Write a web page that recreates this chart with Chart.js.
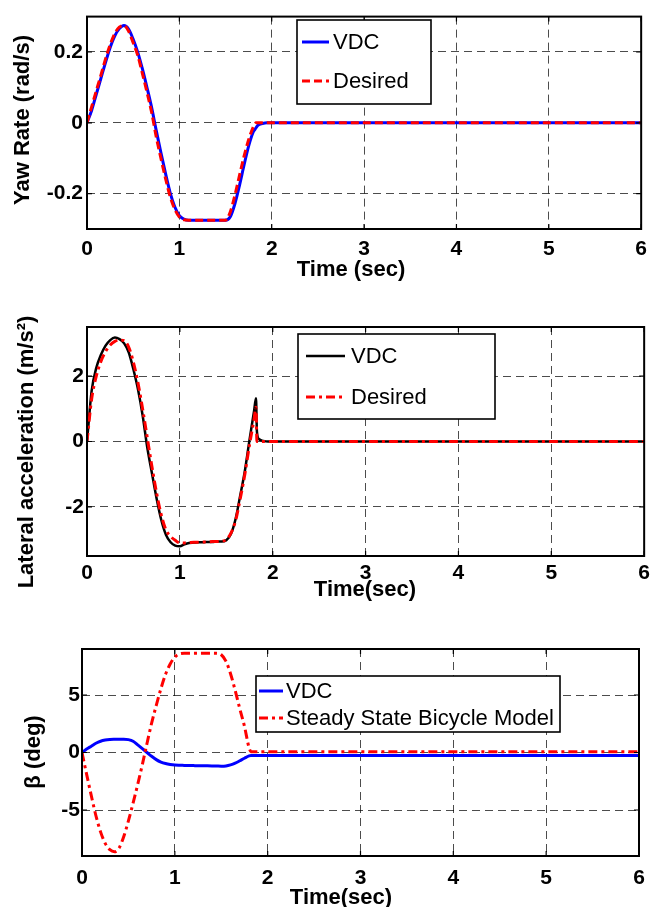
<!DOCTYPE html>
<html>
<head>
<meta charset="utf-8">
<script src="https://cdn.jsdelivr.net/npm/chart.js@4.4.0/dist/chart.umd.min.js"></script>
<style>
  html, body { margin: 0; padding: 0; background: #fff; }
  #wrap { position: relative; width: 655px; height: 907px; overflow: hidden; }
  canvas { position: absolute; left: 0; }
</style>
</head>
<body>
<div id="wrap">
  <canvas id="yawChart" width="655" height="300" style="top:0px"></canvas>
  <canvas id="latChart" width="655" height="310" style="top:300px"></canvas>
  <canvas id="betaChart" width="655" height="287" style="top:620px"></canvas>
</div>
<script>
// sample times (sec), shared by all three panels
const time = [0, 0.05, 0.1, 0.15, 0.2, 0.25, 0.3, 0.35, 0.4, 0.45,
  0.5, 0.55, 0.6, 0.65, 0.7, 0.75, 0.8, 0.85, 0.9, 0.95,
  1.0, 1.05, 1.1, 1.15, 1.2, 1.25, 1.3, 1.35, 1.4, 1.45,
  1.5, 1.55, 1.6, 1.65, 1.7, 1.75, 1.8, 1.82, 1.83, 1.85,
  1.9, 1.95, 2.0, 6.0];

// yaw rate (rad/s)
const yawVdc = [0, 0.035, 0.080, 0.125, 0.170, 0.212, 0.245, 0.266, 0.275, 0.265,
  0.236, 0.199, 0.152, 0.099, 0.043, -0.022, -0.084, -0.143, -0.197, -0.237,
  -0.262, -0.272, -0.275, -0.275, -0.275, -0.275, -0.275, -0.275, -0.275, -0.275,
  -0.275, -0.266, -0.230, -0.178, -0.120, -0.066, -0.026, -0.018, -0.014, -0.007,
  -0.002, 0, 0, 0];
const yawDesired = [0, 0.045, 0.090, 0.134, 0.180, 0.220, 0.252, 0.270, 0.275, 0.259,
  0.226, 0.190, 0.139, 0.086, 0.029, -0.040, -0.100, -0.157, -0.208, -0.244,
  -0.266, -0.274, -0.275, -0.275, -0.275, -0.275, -0.275, -0.275, -0.275, -0.275,
  -0.275, -0.253, -0.206, -0.150, -0.095, -0.048, -0.012, -0.003, 0, 0,
  0, 0, 0, 0];

// lateral acceleration (m/s^2)
const latVdc = [0, 1.55, 2.25, 2.65, 2.93, 3.10, 3.18, 3.13, 3.00, 2.72,
  2.20, 1.58, 0.78, -0.20, -0.98, -1.75, -2.40, -2.85, -3.08, -3.18,
  -3.20, -3.14, -3.10, -3.09, -3.08, -3.08, -3.07, -3.07, -3.06, -3.06,
  -3.02, -2.83, -2.37, -1.65, -0.90, 0.05, 0.95, 1.32, 0.30, 0.08,
  0.02, 0, 0, 0];
const latDesired = [0, 1.30, 2.00, 2.45, 2.75, 2.95, 3.06, 3.10, 3.08, 2.88,
  2.42, 1.78, 0.98, 0.10, -0.78, -1.58, -2.25, -2.70, -2.90, -3.02,
  -3.10, -3.10, -3.09, -3.08, -3.08, -3.07, -3.07, -3.06, -3.06, -3.05,
  -3.00, -2.80, -2.42, -1.75, -1.00, -0.10, 0.70, 1.05, 0, 0,
  0, 0, 0, 0];

// side slip angle beta (deg)
const betaVdc = [0, 0.30, 0.55, 0.80, 0.98, 1.08, 1.13, 1.15, 1.16, 1.16,
  1.12, 0.98, 0.66, 0.33, 0.00, -0.33, -0.62, -0.83, -0.96, -1.04,
  -1.09, -1.11, -1.12, -1.13, -1.14, -1.15, -1.15, -1.16, -1.17, -1.18,
  -1.19, -1.17, -1.08, -0.93, -0.72, -0.50, -0.30, -0.26, -0.26, -0.26,
  -0.26, -0.26, -0.26, -0.26];
const betaBicycle = [0, -1.90, -3.75, -5.50, -6.90, -7.90, -8.45, -8.63, -8.30, -7.30,
  -5.95, -4.40, -2.78, -1.05, 0.78, 2.55, 4.10, 5.55, 6.80, 7.70,
  8.30, 8.58, 8.63, 8.63, 8.63, 8.63, 8.63, 8.63, 8.63, 8.62,
  8.50, 7.95, 6.85, 5.40, 3.80, 2.28, 0.40, 0.08, 0.06, 0.06,
  0.06, 0.06, 0.06, 0.06];

// tick labels
const timeTicks = [0, 1, 2, 3, 4, 5, 6];
const yawTicks = [-0.2, 0, 0.2];
const latTicks = [-2, 0, 2];
const betaTicks = [-5, 0, 5];

const FONT = "'Liberation Sans', Arial, Helvetica, sans-serif";

// matlab look: closed box, inward ticks, boxed legend inside the axes, axis labels
const matlabDecor = {
  id: 'matlabDecor',
  afterDraw(chart, args, opts) {
    const ctx = chart.ctx;
    const a = chart.chartArea;
    const xs = chart.scales.x, ys = chart.scales.y;
    ctx.save();
    ctx.setLineDash([]);
    ctx.strokeStyle = '#000';
    ctx.lineWidth = 1.2;
    ctx.beginPath();
    xs.ticks.forEach(t => {
      const px = xs.getPixelForValue(t.value);
      ctx.moveTo(px, a.bottom); ctx.lineTo(px, a.bottom - 5);
      ctx.moveTo(px, a.top); ctx.lineTo(px, a.top + 5);
    });
    ys.ticks.forEach(t => {
      const py = ys.getPixelForValue(t.value);
      ctx.moveTo(a.left, py); ctx.lineTo(a.left + 5, py);
      ctx.moveTo(a.right, py); ctx.lineTo(a.right - 5, py);
    });
    ctx.stroke();
    ctx.lineWidth = 2;
    ctx.strokeRect(a.left, a.top, a.width, a.height);

    // legend
    const lg = opts.legend;
    ctx.fillStyle = '#fff';
    ctx.fillRect(lg.x, lg.y, lg.w, lg.h);
    ctx.lineWidth = 1.6;
    ctx.strokeStyle = '#000';
    ctx.strokeRect(lg.x, lg.y, lg.w, lg.h);
    ctx.font = '22px ' + FONT;
    ctx.textAlign = 'left';
    ctx.textBaseline = 'middle';
    chart.data.datasets.forEach((ds, i) => {
      const ry = lg.rows[i];
      ctx.strokeStyle = ds.borderColor;
      ctx.lineWidth = ds.borderWidth;
      ctx.setLineDash(ds.borderDash || []);
      ctx.beginPath();
      ctx.moveTo(lg.line[0], ry);
      ctx.lineTo(lg.line[1], ry);
      ctx.stroke();
      ctx.setLineDash([]);
      ctx.fillStyle = '#000';
      ctx.fillText(ds.label, lg.textX, ry + 1);
    });

    // axis titles
    ctx.fillStyle = '#000';
    ctx.font = 'bold 22px ' + FONT;
    ctx.textAlign = 'center';
    ctx.textBaseline = 'alphabetic';
    ctx.fillText(opts.xTitle.text, opts.xTitle.x, opts.xTitle.y);
    ctx.translate(opts.yTitle.x, opts.yTitle.y);
    ctx.rotate(-Math.PI / 2);
    ctx.textBaseline = 'middle';
    ctx.fillText(opts.yTitle.text, 0, 0);
    ctx.restore();
  }
};

function makePanel(id, p) {
  new Chart(document.getElementById(id), {
    type: 'line',
    data: {
      datasets: p.series.map(s => ({
        label: s.label,
        data: time.map((t, i) => ({ x: t, y: s.values[i] })),
        borderColor: s.color,
        borderWidth: s.width,
        borderDash: s.dash,
        pointRadius: 0,
        fill: false,
        cubicInterpolationMode: 'monotone',
        order: s.order
      }))
    },
    options: {
      responsive: false,
      animation: false,
      events: [],
      layout: { padding: { top: p.top, right: p.right, left: 0, bottom: 0 } },
      plugins: {
        legend: { display: false },
        tooltip: { enabled: false },
        matlabDecor: { legend: p.legend, xTitle: p.xTitle, yTitle: p.yTitle }
      },
      scales: {
        x: {
          type: 'linear', min: 0, max: 6,
          afterBuildTicks: sc => { sc.ticks = timeTicks.map(v => ({ value: v })); },
          afterFit: sc => { sc.height = p.xh; },
          grid: { color: 'rgba(0,0,0,0.7)', lineWidth: 1, drawTicks: false },
          border: { display: false, dash: [8, 5] },
          ticks: { color: '#000', padding: p.xPad, maxRotation: 0, autoSkip: false,
                   font: { family: FONT, size: 21, weight: 'bold' }, callback: v => String(v) }
        },
        y: {
          min: p.yMin, max: p.yMax,
          afterBuildTicks: sc => { sc.ticks = p.yTicks.map(v => ({ value: v })); },
          afterFit: sc => { sc.width = p.left; },
          grid: { color: 'rgba(0,0,0,0.7)', lineWidth: 1, drawTicks: false },
          border: { display: false, dash: [8, 5] },
          ticks: { color: '#000', padding: p.yPad, autoSkip: false,
                   font: { family: FONT, size: 21, weight: 'bold' }, callback: v => String(v) }
        }
      }
    },
    plugins: [matlabDecor]
  });
}

makePanel('yawChart', {
  top: 10, right: 7, left: 87, xh: 71, xPad: 8, yPad: 4,
  yMin: -0.3, yMax: 0.3, yTicks: yawTicks,
  series: [
    { label: 'VDC', values: yawVdc, color: '#0000ff', width: 3, dash: [], order: 1 },
    { label: 'Desired', values: yawDesired, color: '#ff0000', width: 3, dash: [8, 4], order: 0 }
  ],
  legend: { x: 297, y: 20, w: 134, h: 84, line: [302, 329], textX: 333, rows: [42, 81] },
  xTitle: { text: 'Time (sec)', x: 351, y: 276 },
  yTitle: { text: 'Yaw Rate (rad/s)', x: 23, y: 120 }
});

makePanel('latChart', {
  top: 27, right: 6, left: 87, xh: 54, xPad: 5, yPad: 3,
  yMin: -3.5, yMax: 3.5, yTicks: latTicks,
  series: [
    { label: 'VDC', values: latVdc, color: '#000000', width: 2.5, dash: [], order: 1 },
    { label: 'Desired', values: latDesired, color: '#ff0000', width: 3, dash: [9, 4, 3, 4], order: 0 }
  ],
  legend: { x: 298, y: 34, w: 197, h: 85, line: [306, 345], textX: 351, rows: [56, 97] },
  xTitle: { text: 'Time(sec)', x: 365, y: 296 },
  yTitle: { text: 'Lateral acceleration (m/s²)', x: 27, y: 152 }
});

makePanel('betaChart', {
  top: 29, right: 16, left: 82, xh: 51, xPad: 10, yPad: 2,
  yMin: -9, yMax: 9, yTicks: betaTicks,
  series: [
    { label: 'VDC', values: betaVdc, color: '#0000ff', width: 3, dash: [], order: 1 },
    { label: 'Steady State Bicycle Model', values: betaBicycle, color: '#ff0000', width: 3, dash: [9, 4, 3, 4], order: 0 }
  ],
  legend: { x: 256, y: 56, w: 304, h: 56, line: [259, 283], textX: 286, rows: [71, 98] },
  xTitle: { text: 'Time(sec)', x: 341, y: 284 },
  yTitle: { text: 'β (deg)', x: 34, y: 132 }
});
</script>
</body>
</html>
